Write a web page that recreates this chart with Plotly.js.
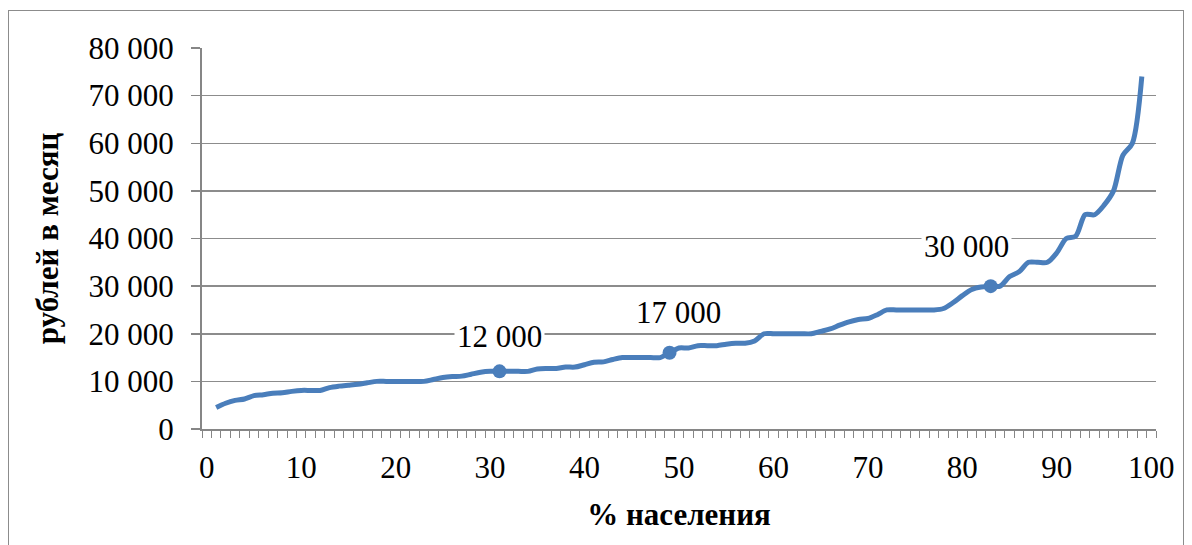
<!DOCTYPE html>
<html>
<head>
<meta charset="utf-8">
<script src="https://cdn.plot.ly/plotly-3.0.1.min.js"></script>
<style>
html,body{margin:0;padding:0;background:#fff;}
#frame{position:absolute;left:8px;top:10px;width:1176px;height:540px;border:1px solid #8c8c8c;box-sizing:border-box;}
#chart{position:absolute;left:0;top:0;width:1192px;height:545px;}
</style>
</head>
<body>
<div id="frame"></div>
<div id="chart"></div>
<script>
// % населения (1..99)
const percent = [];
for (let i = 1; i <= 99; i++) percent.push(i);
// рублей в месяц
const income = [
  4500, 5400, 6000, 6300, 7000, 7200, 7500, 7600, 7900, 8100,
  8100, 8100, 8700, 9000, 9200, 9400, 9700, 10000, 10000, 10000,
  10000, 10000, 10000, 10400, 10800, 11000, 11100, 11500, 11900, 12100,
  12100, 12100, 12100, 12100, 12600, 12700, 12700, 13000, 13000, 13500,
  14000, 14100, 14600, 15000, 15000, 15000, 15000, 15000, 16000, 17000,
  17000, 17500, 17500, 17500, 17800, 18000, 18000, 18500, 20000, 20000,
  20000, 20000, 20000, 20000, 20500, 21000, 21800, 22500, 23000, 23200,
  24000, 25000, 25000, 25000, 25000, 25000, 25000, 25300, 26500, 28000,
  29300, 29800, 30000, 30000, 32000, 33000, 35000, 35000, 35000, 37000,
  40000, 40500, 45000, 45000, 47000, 50000, 57500, 60000, 74000
];
const markPercent = [31, 49, 83];
const markText = ['12 000', '17 000', '30 000'];

const markY = markPercent.map(p => income[percent.indexOf(p)]);
const shifts = [[0, 35], [9, 40], [-24, 40]];

const font = 'Liberation Serif, Times New Roman, serif';

const traces = [
  {
    x: percent, y: income, type: 'scatter', mode: 'lines',
    line: {color: '#4a7ebb', width: 5, shape: 'spline', smoothing: 0.8},
    hoverinfo: 'x+y'
  },
  {
    x: markPercent, y: markY, type: 'scatter', mode: 'markers',
    marker: {color: '#4a7ebb', size: 14},
    hoverinfo: 'x+y'
  }
];

const layout = {
  width: 1192, height: 545,
  margin: {l: 202, r: 36, t: 48, b: 116},
  paper_bgcolor: 'rgba(0,0,0,0)',
  plot_bgcolor: 'rgba(0,0,0,0)',
  showlegend: false,
  separators: ', ',
  font: {family: font, size: 32, color: '#000'},
  xaxis: {
    range: [-0.5, 100.5],
    tickmode: 'array',
    tickvals: [0,10,20,30,40,50,60,70,80,90,100],
    ticktext: ['0','10','20','30','40','50','60','70','80','90','100'],
    ticks: '',
    ticklabelstandoff: 10,
    showline: true, linecolor: '#868686', linewidth: 2,
    showgrid: false, zeroline: false,
    minor: {ticks: 'outside', ticklen: 7, tickwidth: 1, tickcolor: '#868686', tick0: -0.5, dtick: 1, showgrid: false},
    tickfont: {family: font, size: 31},
    title: {text: '<b>% населения</b>', font: {family: font, size: 31}, standoff: 19}
  },
  yaxis: {
    range: [0, 80000],
    dtick: 10000, tick0: 0,
    tickformat: ',d',
    ticks: 'outside', ticklen: 9, tickwidth: 1.5, tickcolor: '#868686',
    ticklabelstandoff: 11,
    showline: true, linecolor: '#868686', linewidth: 2,
    showgrid: true, gridcolor: '#8c8c8c', gridwidth: 1.5,
    zeroline: false,
    tickfont: {family: font, size: 31},
    title: {text: '<b>рублей в месяц</b>', font: {family: font, size: 31}, standoff: 21}
  },
  annotations: markPercent.map((p, i) => ({
    x: p, y: markY[i], xref: 'x', yref: 'y',
    text: markText[i], showarrow: false,
    xshift: shifts[i][0], yshift: shifts[i][1],
    bgcolor: '#ffffff', borderpad: 2,
    font: {family: font, size: 31, color: '#000'}
  }))
};

Plotly.newPlot('chart', traces, layout, {displayModeBar: false, staticPlot: true});
</script>
</body>
</html>
